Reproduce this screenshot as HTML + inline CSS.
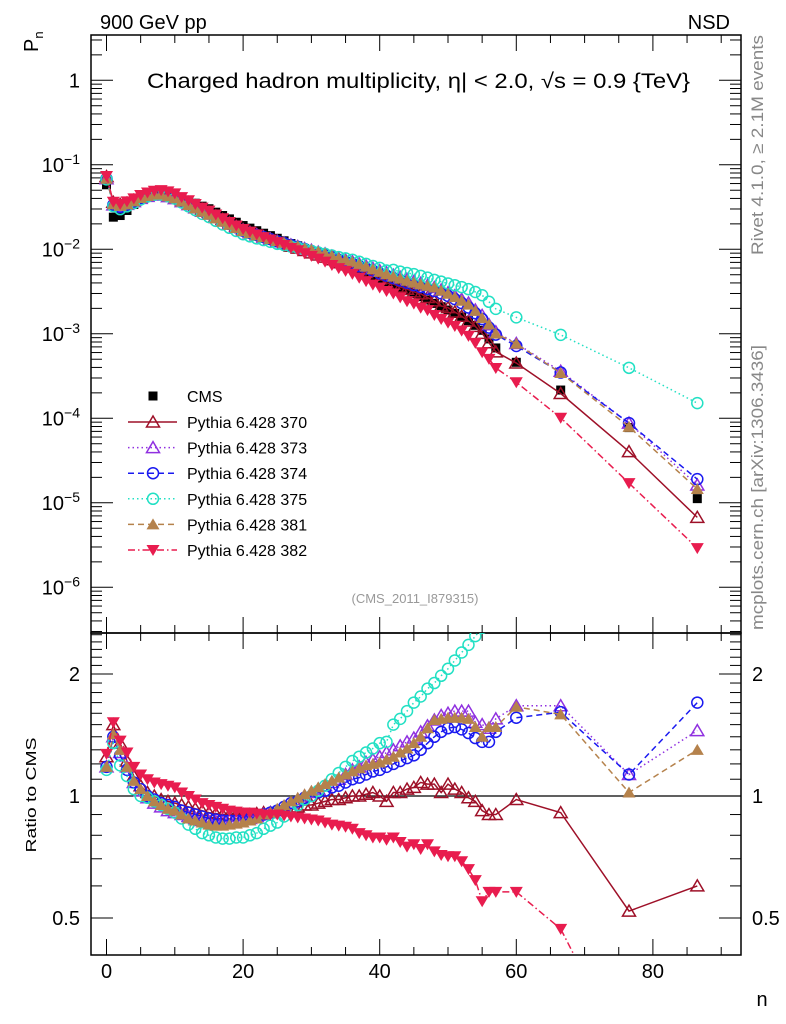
<!DOCTYPE html>
<html><head><meta charset="utf-8"><style>
body{margin:0;background:#fff}
svg{display:block;font-family:"Liberation Sans",sans-serif}
</style></head><body>
<svg id="c" width="786" height="1024" viewBox="0 0 786 1024" xmlns="http://www.w3.org/2000/svg">
<defs>
<clipPath id="cm"><rect x="91" y="35" width="650" height="598"/></clipPath>
<clipPath id="cr"><rect x="91" y="633" width="650" height="322"/></clipPath>
</defs>
<text x="100" y="29" font-size="20">900 GeV pp</text>
<text x="730" y="29" font-size="20" text-anchor="end">NSD</text>
<text transform="translate(38,52) rotate(-90)" font-size="20">P<tspan font-size="13" dy="5">n</tspan></text>
<text x="147" y="88" font-size="21" textLength="543" lengthAdjust="spacingAndGlyphs">Charged hadron multiplicity, η| &lt; 2.0, √s = 0.9 {TeV}</text>
<text x="415" y="603" font-size="13" fill="#999" text-anchor="middle">(CMS_2011_I879315)</text>
<text transform="translate(763,255) rotate(-90)" font-size="17" fill="#888" textLength="220" lengthAdjust="spacingAndGlyphs">Rivet 4.1.0, ≥ 2.1M events</text>
<text transform="translate(763,630) rotate(-90)" font-size="17" fill="#888" textLength="285" lengthAdjust="spacingAndGlyphs">mcplots.cern.ch [arXiv:1306.3436]</text>
<text transform="translate(36,795) rotate(-90)" font-size="15" text-anchor="middle" textLength="115" lengthAdjust="spacingAndGlyphs">Ratio to CMS</text>
<text x="762" y="1006" font-size="20" text-anchor="middle">n</text>
<g id="axes"></g>
<g id="mainMarks" clip-path="url(#cm)"></g>
<g id="ratioMarks" clip-path="url(#cr)"></g>
<g id="legend"></g>
</svg>
<script>
const nVals=[0,1,2,3,4,5,6,7,8,9,10,11,12,13,14,15,16,17,18,19,20,21,22,23,24,25,26,27,28,29,30,31,32,33,34,35,36,37,38,39,40,41,42,43,44,45,46,47,48,49,50,51,52,53,54,55,56,57,60,66.5,76.5,86.5];
const cmsVals=[0.058,0.0240,0.0251,0.0288,0.0339,0.0389,0.0427,0.0457,0.0468,0.0457,0.0437,0.0407,0.0380,0.0351,0.0324,0.0302,0.0275,0.0251,0.0229,0.0209,0.0191,0.0178,0.0166,0.0155,0.0145,0.0135,0.0126,0.0117,0.0110,0.0102,0.00955,0.00891,0.00832,0.00767,0.00708,0.00661,0.00617,0.00569,0.00525,0.00484,0.00447,0.00412,0.00380,0.00351,0.00324,0.00299,0.00275,0.00251,0.00229,0.00209,0.00191,0.00174,0.00158,0.00143,0.00126,0.00110,0.00087,0.00068,0.00046,0.000216,0.0000776,0.0000112];
const ratio370=[1.25,1.50,1.35,1.22,1.12,1.06,1.02,1.0,0.98,0.97,0.96,0.95,0.94,0.93,0.92,0.91,0.905,0.90,0.90,0.90,0.90,0.90,0.905,0.91,0.91,0.92,0.92,0.93,0.94,0.95,0.95,0.96,0.97,0.98,0.98,0.99,1.0,1.0,1.01,1.02,1.0,0.97,1.02,1.02,1.04,1.05,1.08,1.07,1.07,1.02,1.07,1.04,1.02,0.99,0.97,0.92,0.90,0.90,0.98,0.91,0.52,0.60];
const ratio373=[1.18,1.40,1.28,1.18,1.08,1.03,0.99,0.96,0.94,0.92,0.91,0.90,0.89,0.88,0.87,0.865,0.865,0.865,0.87,0.87,0.875,0.88,0.89,0.90,0.91,0.92,0.94,0.96,0.98,1.0,1.02,1.04,1.06,1.08,1.10,1.13,1.16,1.18,1.21,1.23,1.25,1.28,1.30,1.33,1.36,1.39,1.44,1.49,1.54,1.58,1.60,1.62,1.62,1.62,1.52,1.50,1.47,1.55,1.67,1.67,1.13,1.45];
const ratio374=[1.18,1.40,1.26,1.16,1.08,1.04,1.0,0.98,0.96,0.95,0.94,0.92,0.91,0.90,0.89,0.88,0.875,0.87,0.87,0.87,0.87,0.88,0.89,0.90,0.91,0.92,0.94,0.96,0.97,0.99,1.0,1.02,1.03,1.05,1.06,1.08,1.10,1.11,1.13,1.15,1.16,1.18,1.20,1.22,1.24,1.26,1.30,1.35,1.40,1.44,1.47,1.48,1.46,1.43,1.39,1.36,1.36,1.44,1.56,1.61,1.13,1.70];
const ratio375=[1.16,1.35,1.19,1.12,1.04,1.0,0.99,0.97,0.95,0.93,0.91,0.88,0.85,0.83,0.81,0.80,0.79,0.785,0.785,0.79,0.79,0.80,0.81,0.83,0.845,0.86,0.89,0.92,0.95,0.98,1.0,1.03,1.06,1.10,1.14,1.18,1.22,1.25,1.28,1.31,1.35,1.36,1.50,1.55,1.62,1.70,1.76,1.84,1.90,1.98,2.06,2.16,2.26,2.36,2.48,2.6,2.75,2.9,3.4,4.5,5.1,13.5];
const ratio381=[1.18,1.42,1.30,1.18,1.09,1.04,1.0,0.97,0.95,0.93,0.92,0.90,0.88,0.87,0.86,0.85,0.845,0.845,0.85,0.855,0.86,0.87,0.88,0.90,0.91,0.93,0.95,0.97,0.99,1.01,1.03,1.05,1.07,1.09,1.11,1.13,1.15,1.17,1.19,1.20,1.21,1.23,1.25,1.28,1.31,1.35,1.40,1.47,1.54,1.55,1.56,1.56,1.56,1.55,1.48,1.40,1.48,1.48,1.66,1.59,1.02,1.30];
const ratio382=[1.27,1.52,1.37,1.28,1.18,1.13,1.10,1.08,1.07,1.06,1.05,1.02,1.0,0.98,0.96,0.95,0.94,0.93,0.92,0.915,0.91,0.91,0.905,0.90,0.90,0.90,0.895,0.89,0.885,0.88,0.875,0.87,0.86,0.85,0.845,0.84,0.83,0.81,0.80,0.79,0.79,0.78,0.79,0.77,0.75,0.76,0.74,0.76,0.73,0.715,0.71,0.71,0.69,0.66,0.62,0.55,0.58,0.58,0.58,0.47,0.22,0.26];
const xTicks=[0,20,40,60,80];
const mainDecades=[0,-1,-2,-3,-4,-5,-6];
const ratioTicks=[0.5,1,2];

const NS="http://www.w3.org/2000/svg";
const xS=n=>106.5+6.83*n;
const yM=v=>80.3-84.5*Math.log10(v);
const yR=r=>796-122*Math.log2(r);
function mk(tag,parent,attrs){const e=document.createElementNS(NS,tag);for(const k in attrs)e.setAttribute(k,attrs[k]);parent.appendChild(e);return e;}
const axes=document.getElementById('axes');
let f1=mk('rect',axes,{x:91,y:35,width:650,height:598,fill:'none',stroke:'#000','stroke-width':1.5});


let f2=mk('rect',axes,{x:91,y:633,width:650,height:322,fill:'none',stroke:'#000','stroke-width':1.5});


for(let v=0;v<=90;v+=5){const x=xS(v);const L=(v%20===0)?16:8;
 for(const [yt,yb] of [[35,633],[633,955]]){
  mk('line',axes,{x1:x,y1:yt,x2:x,y2:yt+L,stroke:'#000'});
  mk('line',axes,{x1:x,y1:yb,x2:x,y2:yb-L,stroke:'#000'});}}
xTicks.forEach(v=>{const t=mk('text',axes,{x:xS(v),y:978,'font-size':20,'text-anchor':'middle'});t.textContent=String(v);
 
 });
for(let d=-7;d<=0;d++){for(let m=1;m<10;m++){const v=m*Math.pow(10,d);const y=yM(v);if(y<35||y>633)continue;const L=m===1?22:11;
 mk('line',axes,{x1:91,y1:y,x2:91+L,y2:y,stroke:'#000'});mk('line',axes,{x1:741,y1:y,x2:741-L,y2:y,stroke:'#000'});}}
mainDecades.forEach(d=>{const y=yM(Math.pow(10,d))+7;const t=mk('text',axes,{x:80,y:y,'font-size':20,'text-anchor':'end'});
 if(d===0){t.textContent='1';}else{const a=mk('tspan',t,{});a.textContent='10';const b=mk('tspan',t,{dy:-8,'font-size':14});b.textContent='\u2212'+(-d);}
 
 });
for(let r=0.4;r<=2.55;r+=0.1){const rr=Math.round(r*10)/10;const y=yR(rr);if(y<633||y>955)continue;const L=(rr===0.5||rr===1||rr===2)?22:11;
 mk('line',axes,{x1:91,y1:y,x2:91+L,y2:y,stroke:'#000'});mk('line',axes,{x1:741,y1:y,x2:741-L,y2:y,stroke:'#000'});}
ratioTicks.forEach(r=>{for(const [x,a] of [[80,'end'],[752,'start']]){const t=mk('text',axes,{x:x,y:yR(r)+7,'font-size':20,'text-anchor':a});t.textContent=String(r);
 
 }});
const one=mk('line',axes,{x1:91,y1:yR(1),x2:741,y2:yR(1),stroke:'#000','stroke-width':1.2});



function marker(g,type,color,x,y){
 let e;
 if(type==='sq') e=mk('rect',g,{x:x-4.5,y:y-4.5,width:9,height:9,fill:color});
 else if(type==='ot') e=mk('polygon',g,{points:`${x},${y-6} ${x-6.5},${y+5} ${x+6.5},${y+5}`,fill:'none',stroke:color,'stroke-width':1.5});
 else if(type==='ft') e=mk('polygon',g,{points:`${x},${y-6} ${x-6.5},${y+5} ${x+6.5},${y+5}`,fill:color});
 else if(type==='it') e=mk('polygon',g,{points:`${x},${y+6} ${x-6.5},${y-5} ${x+6.5},${y-5}`,fill:color});
 else if(type==='oc'){e=mk('circle',g,{cx:x,cy:y,r:5.5,fill:'none',stroke:color,'stroke-width':1.5});}
 return e;}
const series=[
 {name:'Pythia 6.428 370',r:ratio370,color:'#9e1028',type:'ot',dash:''},
 {name:'Pythia 6.428 373',r:ratio373,color:'#9030e0',type:'ot',dash:'1.5,3'},
 {name:'Pythia 6.428 374',r:ratio374,color:'#1a1af0',type:'oc',dash:'6,4'},
 {name:'Pythia 6.428 375',r:ratio375,color:'#22e0c4',type:'oc',dash:'1.5,3'},
 {name:'Pythia 6.428 381',r:ratio381,color:'#b5824c',type:'ft',dash:'6,4'},
 {name:'Pythia 6.428 382',r:ratio382,color:'#e81c4e',type:'it',dash:'7,3,1.5,3'}];
const gm=document.getElementById('mainMarks'),gr=document.getElementById('ratioMarks');
const gc=mk('g',gm,{});


nVals.forEach((n,i)=>marker(gc,'sq','#000',xS(n),yM(cmsVals[i])));
series.forEach((s,si)=>{
 const vals=s.r.map((r,i)=>r*cmsVals[i]);
 const g=mk('g',gm,{});
 
 
 mk('polyline',g,{points:nVals.map((n,i)=>xS(n)+','+yM(vals[i])).join(' '),fill:'none',stroke:s.color,'stroke-width':1.5,'stroke-dasharray':s.dash});
 nVals.forEach((n,i)=>marker(g,s.type,s.color,xS(n),yM(vals[i])));
 const g2=mk('g',gr,{});
 
 
 mk('polyline',g2,{points:nVals.map((n,i)=>xS(n)+','+yR(s.r[i])).join(' '),fill:'none',stroke:s.color,'stroke-width':1.5,'stroke-dasharray':s.dash});
 nVals.forEach((n,i)=>marker(g2,s.type,s.color,xS(n),yR(s.r[i])));
});
const lg=document.getElementById('legend');
const lc=mk('g',lg,{});


marker(lc,'sq','#000',153,396);
let t0=mk('text',lc,{x:187,y:402,'font-size':16});t0.textContent='CMS';
series.forEach((s,i)=>{const y=422+25.6*i;const g=mk('g',lg,{});
 
 
 mk('line',g,{x1:128,y1:y,x2:177,y2:y,stroke:s.color,'stroke-width':1.5,'stroke-dasharray':s.dash});
 marker(g,s.type,s.color,153,y);
 const t=mk('text',g,{x:187,y:y+6,'font-size':16});t.textContent=s.name;});
</script>
</body></html>
